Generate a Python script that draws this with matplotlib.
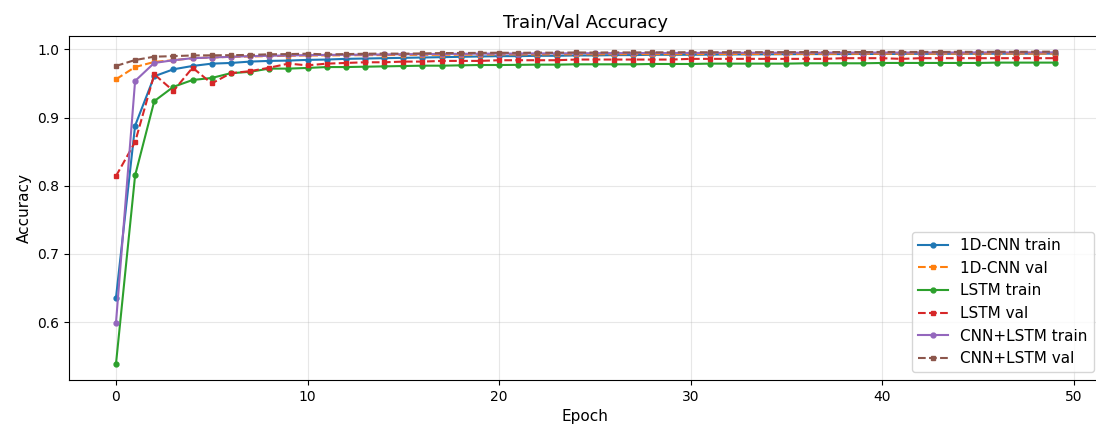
import matplotlib
matplotlib.use("Agg")
import matplotlib.pyplot as plt

epochs = list(range(50))

cnn_train = [0.635, 0.888, 0.9605, 0.9707, 0.9756, 0.979, 0.980, 0.982, 0.983, 0.9835,
             0.9845, 0.985, 0.986, 0.9865, 0.987, 0.9875, 0.988, 0.9885, 0.989, 0.9895,
             0.990, 0.990, 0.9905, 0.9905, 0.991, 0.991, 0.9915, 0.9915, 0.992, 0.992,
             0.992, 0.9922, 0.9925, 0.9925, 0.9927, 0.9928, 0.993, 0.993, 0.993, 0.9932,
             0.9932, 0.9933, 0.9934, 0.9934, 0.9935, 0.9935, 0.9936, 0.9936, 0.9937, 0.9937]
cnn_val = [0.956, 0.974, 0.9815, 0.984, 0.987, 0.988, 0.989, 0.9895, 0.990, 0.9905,
           0.991, 0.991, 0.9912, 0.9915, 0.9915, 0.9918, 0.992, 0.992, 0.9922, 0.9922,
           0.9925, 0.9925, 0.9925, 0.9927, 0.9927, 0.9928, 0.9928, 0.993, 0.993, 0.993,
           0.993, 0.9932, 0.9932, 0.9932, 0.9933, 0.9933, 0.9934, 0.9934, 0.9935, 0.9935,
           0.9935, 0.9936, 0.9936, 0.9936, 0.9937, 0.9937, 0.9937, 0.9938, 0.9938, 0.9938]
lstm_train = [0.538, 0.815, 0.924, 0.945, 0.955, 0.958, 0.965, 0.967, 0.9717, 0.9717,
              0.9727, 0.974, 0.974, 0.9745, 0.975, 0.9755, 0.976, 0.976, 0.9765, 0.977,
              0.977, 0.9772, 0.9775, 0.9775, 0.978, 0.978, 0.978, 0.978, 0.9785, 0.9785,
              0.9785, 0.979, 0.979, 0.979, 0.979, 0.979, 0.9795, 0.9795, 0.9795, 0.9795,
              0.980, 0.980, 0.980, 0.980, 0.980, 0.980, 0.9805, 0.9805, 0.9805, 0.9805]
lstm_val = [0.814, 0.864, 0.9633, 0.939, 0.973, 0.950, 0.965, 0.968, 0.973, 0.979,
            0.9765, 0.979, 0.980, 0.981, 0.981, 0.982, 0.982, 0.983, 0.983, 0.983,
            0.984, 0.984, 0.984, 0.984, 0.985, 0.985, 0.985, 0.985, 0.985, 0.985,
            0.986, 0.986, 0.986, 0.986, 0.986, 0.986, 0.986, 0.986, 0.987, 0.987,
            0.987, 0.986, 0.987, 0.987, 0.987, 0.987, 0.987, 0.987, 0.987, 0.987]
hybrid_train = [0.598, 0.9536, 0.980, 0.984, 0.987, 0.988, 0.989, 0.990, 0.9905, 0.991,
                0.9915, 0.9918, 0.992, 0.9922, 0.9925, 0.9928, 0.993, 0.9932, 0.9934, 0.9936,
                0.9937, 0.9938, 0.994, 0.994, 0.9942, 0.9943, 0.9944, 0.9945, 0.9946, 0.9946,
                0.9947, 0.9948, 0.9948, 0.9949, 0.995, 0.995, 0.995, 0.9951, 0.9951, 0.9952,
                0.9952, 0.9952, 0.9953, 0.9953, 0.9953, 0.9954, 0.9954, 0.9954, 0.9955, 0.9955]
hybrid_val = [0.9756, 0.9843, 0.9892, 0.9900, 0.9910, 0.9912, 0.9914, 0.9918, 0.9927, 0.9930,
              0.9936, 0.9925, 0.9930, 0.9935, 0.9938, 0.9936, 0.9940, 0.9945, 0.9946, 0.9948,
              0.9950, 0.9948, 0.9952, 0.9950, 0.9954, 0.9952, 0.9955, 0.9954, 0.9956, 0.9955,
              0.9958, 0.9956, 0.9958, 0.9957, 0.9959, 0.9958, 0.9960, 0.9959, 0.9961, 0.9960,
              0.9962, 0.9961, 0.9962, 0.9962, 0.9963, 0.9962, 0.9964, 0.9963, 0.9965, 0.9966]

series = [
    ("1D-CNN train", cnn_train, "-", "o"),
    ("1D-CNN val", cnn_val, "--", "s"),
    ("LSTM train", lstm_train, "-", "o"),
    ("LSTM val", lstm_val, "--", "s"),
    ("CNN+LSTM train", hybrid_train, "-", "o"),
    ("CNN+LSTM val", hybrid_val, "--", "s"),
]

fig = plt.figure(figsize=(10.96, 4.26), dpi=100)
ax = fig.add_axes([69 / 1096, 46 / 426, 1032.6 / 1096, 344 / 426])

for label, values, ls, mk in series:
    ax.plot(epochs, values, linestyle=ls, marker=mk, markersize=3.5, label=label)

ax.set_title("Train/Val Accuracy", fontsize=13)
ax.set_xlabel("Epoch", fontsize=11)
ax.set_ylabel("Accuracy", fontsize=11)
ax.grid(True, alpha=0.3)
ax.legend(loc="lower right", fontsize=11)

fig.savefig("out.png", dpi=100)
